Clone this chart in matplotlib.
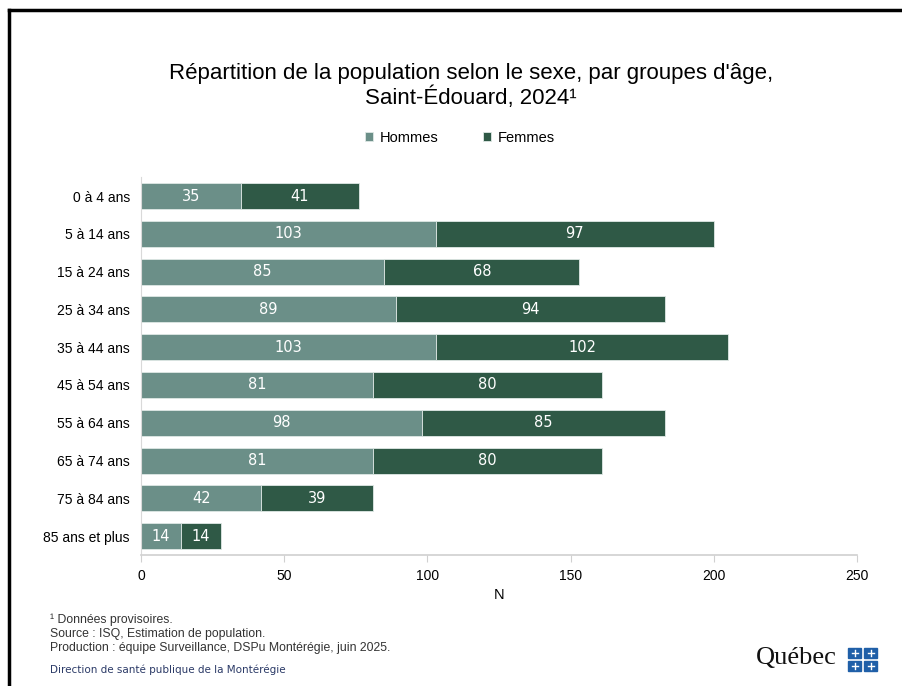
import numpy as np
import matplotlib.pyplot as plt
from matplotlib.patches import Rectangle
from matplotlib.lines import Line2D

groups = ['0 à 4 ans', '5 à 14 ans', '15 à 24 ans', '25 à 34 ans', '35 à 44 ans',
          '45 à 54 ans', '55 à 64 ans', '65 à 74 ans', '75 à 84 ans', '85 ans et plus']
hommes = [35, 103, 85, 89, 103, 81, 98, 81, 42, 14]
femmes = [41, 97, 68, 94, 102, 80, 85, 80, 39, 14]
xticks = [0, 50, 100, 150, 200, 250]

c_h = '#6b8f88'
c_f = '#2f5946'

plt.rcParams['font.family'] = ['Liberation Sans', 'DejaVu Sans']

fig = plt.figure(figsize=(9.02, 6.86), dpi=100)
ax = fig.add_axes([141/902, 1-555/686, 716/902, 377.8/686])

y = np.arange(len(groups))
ax.barh(y, hommes, height=0.69, color=c_h, edgecolor='#dfe8e5', linewidth=0.6, label='Hommes')
ax.barh(y, femmes, left=hommes, height=0.69, color=c_f, edgecolor='#dfe8e5', linewidth=0.6, label='Femmes')

# étiquettes de valeurs
for i in range(len(groups)):
    ax.text(hommes[i]/2, y[i], str(hommes[i]), ha='center', va='center', color='white',
            fontsize=10.5, family='DejaVu Sans')
    ax.text(hommes[i] + femmes[i]/2, y[i], str(femmes[i]), ha='center', va='center',
            color='white', fontsize=10.5, family='DejaVu Sans')

ax.set_ylim(len(groups)-0.5, -0.5)
ax.set_xlim(0, 250)
ax.set_yticks(y)
ax.set_yticklabels(groups, fontsize=10)
ax.set_xticks(xticks)
ax.set_xticklabels([str(t) for t in xticks], fontsize=10)
ax.tick_params(axis='y', length=0, pad=8)
ax.tick_params(axis='x', length=5, color='#d0d0d0', pad=5)
for s in ['top', 'right']:
    ax.spines[s].set_visible(False)
ax.spines['left'].set_color('#d9d9d9')
ax.spines['bottom'].set_color('#d0d0d0')
ax.spines['bottom'].set_linewidth(1.2)
ax.set_xlabel('N', fontsize=10.5, labelpad=4)

fig.text(471/902, 1-86/686, "Répartition de la population selon le sexe, par groupes d'âge,\nSaint-Édouard, 2024¹",
         ha='center', va='center', fontsize=16, linespacing=1.12)

fig.legend(loc='center', bbox_to_anchor=(460/902, 1-138/686), ncol=2, frameon=False,
           fontsize=10.5, handlelength=0.55, handleheight=0.55, columnspacing=3.0, handletextpad=0.5)

foot = ['¹ Données provisoires.', 'Source : ISQ, Estimation de population.',
        'Production : équipe Surveillance, DSPu Montérégie, juin 2025.']
for k, t in enumerate(foot):
    fig.text(50/902, 1-(620+14*k)/686, t, ha='left', va='center', fontsize=8.8, color='#333333')
fig.text(50/902, 1-670/686, 'Direction de santé publique de la Montérégie', ha='left', va='center',
         fontsize=7.5, color='#2b3a67', family='DejaVu Sans')

# logo
fig.text(756/902, 1-658/686, 'Québec', ha='left', va='center', fontsize=19,
         family='Liberation Serif', color='#111111')
for bx, by in [(848, 648), (864, 648), (848, 661), (864, 661)]:
    fig.add_artist(Rectangle((bx/902, 1-(by+10)/686), 13/902, 10/686, transform=fig.transFigure,
                             color='#1f5fa8'))
    fig.add_artist(Line2D([(bx+3.5)/902, (bx+9.5)/902], [1-(by+5)/686]*2, transform=fig.transFigure,
                          color='white', lw=1))
    fig.add_artist(Line2D([(bx+6.5)/902]*2, [1-(by+2)/686, 1-(by+8)/686], transform=fig.transFigure,
                          color='white', lw=1))

# cadre
fig.add_artist(Line2D([9/902, 1], [1-10/686, 1-10/686], transform=fig.transFigure, color='black', lw=2.5))
fig.add_artist(Line2D([9/902, 9/902], [0, 1-10/686], transform=fig.transFigure, color='black', lw=2.5))

fig.savefig('out.png', dpi=100, facecolor='white')
